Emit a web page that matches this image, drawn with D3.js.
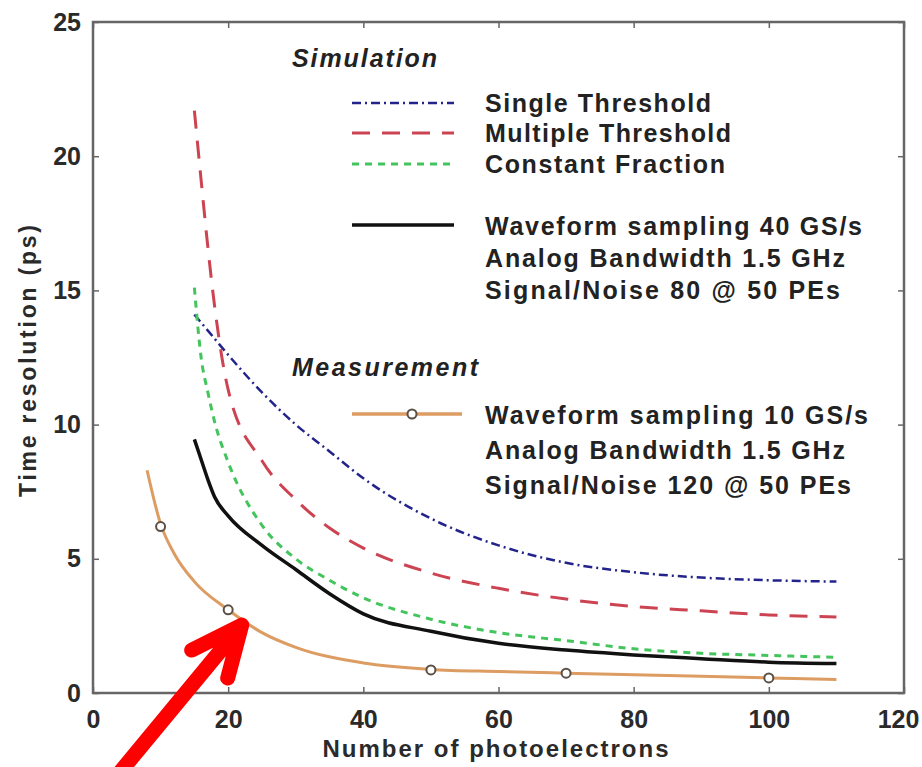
<!DOCTYPE html>
<html>
<head>
<meta charset="utf-8">
<script src="https://cdn.jsdelivr.net/npm/d3@7/dist/d3.min.js"></script>
<style>
  body { margin: 0; background: #fff; }
  svg { display: block; font-family: 'Liberation Sans', Arial, sans-serif; }
</style>
</head>
<body>
<div id="chart"></div>
<script>
// ---- data ----
const simX = [15, 16, 17, 18, 20, 25, 30, 35, 40, 50, 60, 70, 80, 90, 100, 110];
const singleThreshold = [14.1, 13.8, 13.5, 13.2, 12.6, 11.2, 10.0, 9.0, 8.0, 6.5, 5.5, 4.85, 4.5, 4.3, 4.2, 4.15];
const multipleThreshold = [21.7, 19.1, 16.6, 14.4, 11.3, 8.65, 7.2, 6.15, 5.4, 4.47, 3.9, 3.5, 3.22, 3.06, 2.91, 2.83];
const constantFraction = [15.1, 12.5, 11.2, 10.1, 8.6, 6.25, 5.0, 4.2, 3.55, 2.75, 2.25, 1.95, 1.65, 1.48, 1.4, 1.33];
const waveform40 = [9.45, 8.7, 7.95, 7.3, 6.6, 5.5, 4.6, 3.7, 2.95, 2.3, 1.85, 1.6, 1.42, 1.28, 1.15, 1.1];

const measX = [8, 10, 12, 15, 20, 25, 30, 40, 50, 60, 70, 80, 90, 100, 110];
const waveform10 = [8.3, 6.3, 5.2, 4.15, 3.1, 2.25, 1.7, 1.12, 0.88, 0.8, 0.74, 0.68, 0.62, 0.56, 0.5];
const markX = [10, 20, 50, 70, 100];
const markY = [6.2, 3.1, 0.86, 0.74, 0.56];

const xTicks = [0, 20, 40, 60, 80, 100, 120];
const yTicks = [0, 5, 10, 15, 20, 25];

const simLegend = ['Single Threshold', 'Multiple Threshold', 'Constant Fraction'];
const simNote = ['Waveform sampling 40 GS/s', 'Analog Bandwidth  1.5 GHz', 'Signal/Noise  80 @ 50 PEs'];
const measNote = ['Waveform sampling 10 GS/s', 'Analog Bandwidth  1.5 GHz', 'Signal/Noise  120 @ 50 PEs'];

// ---- setup ----
const margin = { top: 22, right: 18, bottom: 74, left: 93 };
const width = 922 - margin.left - margin.right;
const height = 767 - margin.top - margin.bottom;

const svg = d3.select('#chart')
  .append('svg')
  .attr('width', 922)
  .attr('height', 767);

const group = svg.append('g')
  .attr('transform', 'translate(' + margin.left + ',' + margin.top + ')');

const xScale = d3.scaleLinear().domain([0, 120]).range([0, width]);
const yScale = d3.scaleLinear().domain([0, 25]).range([height, 0]);

// axes, matlab style: box with ticks pointing inwards
const axisColor = '#666';
const labelColor = '#2a2a2a';

function styleAxis(g) {
  g.select('.domain').remove();
  g.selectAll('.tick line').attr('stroke', axisColor).attr('stroke-width', 1.5);
  g.selectAll('.tick text')
    .attr('fill', labelColor)
    .attr('font-size', 25)
    .attr('font-weight', 'bold');
}

group.append('g')
  .attr('transform', 'translate(0,' + height + ')')
  .call(d3.axisBottom(xScale).tickValues(xTicks).tickSize(-6).tickPadding(17))
  .call(styleAxis)
  .selectAll('.tick text')
  .attr('dx', (d) => (d === 120 ? -6 : 0));
group.append('g')
  .call(d3.axisTop(xScale).tickValues(xTicks).tickSize(-6).tickFormat(''))
  .call(styleAxis);
group.append('g')
  .call(d3.axisLeft(yScale).tickValues(yTicks).tickSize(-6).tickPadding(12))
  .call(styleAxis);
group.append('g')
  .attr('transform', 'translate(' + width + ',0)')
  .call(d3.axisRight(yScale).tickValues(yTicks).tickSize(-6).tickFormat(''))
  .call(styleAxis);

group.append('rect')
  .attr('width', width)
  .attr('height', height)
  .attr('fill', 'none')
  .attr('stroke', axisColor)
  .attr('stroke-width', 2.5);

// axis titles
svg.append('text')
  .attr('x', margin.left + width / 2 - 3)
  .attr('y', 757)
  .attr('text-anchor', 'middle')
  .attr('font-size', 24)
  .attr('font-weight', 'bold')
  .attr('fill', labelColor)
  .attr('textLength', 346)
  .attr('lengthAdjust', 'spacing')
  .text('Number of photoelectrons');

svg.append('text')
  .attr('transform', 'translate(36,361) rotate(-90)')
  .attr('text-anchor', 'middle')
  .attr('font-size', 23)
  .attr('font-weight', 'bold')
  .attr('fill', labelColor)
  .attr('textLength', 272)
  .attr('lengthAdjust', 'spacing')
  .text('Time resolution (ps)');

// ---- lines ----
const series = [
  { x: simX, y: singleThreshold, color: '#23238c', dash: '9,4,2,4', w: 2.5 },
  { x: simX, y: multipleThreshold, color: '#cc4452', dash: '18,12', w: 3 },
  { x: simX, y: constantFraction, color: '#44c45c', dash: '7,6', w: 3 },
  { x: simX, y: waveform40, color: '#111', dash: null, w: 3.5 },
  { x: measX, y: waveform10, color: '#dc9c62', dash: null, w: 3 }
];

const line = d3.line()
  .x((d) => xScale(d[0]))
  .y((d) => yScale(d[1]))
  .curve(d3.curveMonotoneX);

series.forEach((s) => {
  group.append('path')
    .datum(s.x.map((v, i) => [v, s.y[i]]))
    .attr('fill', 'none')
    .attr('stroke', s.color)
    .attr('stroke-width', s.w)
    .attr('stroke-dasharray', s.dash)
    .attr('stroke-linejoin', 'round')
    .attr('d', line);
});

group.selectAll('.meas-point')
  .data(markX.map((v, i) => [v, markY[i]]))
  .enter()
  .append('circle')
  .attr('class', 'meas-point')
  .attr('cx', (d) => xScale(d[0]))
  .attr('cy', (d) => yScale(d[1]))
  .attr('r', 4.5)
  .attr('fill', '#fff')
  .attr('stroke', '#5a5048')
  .attr('stroke-width', 2);

// ---- legend ----
const legend = svg.append('g').attr('fill', '#222').attr('font-weight', 'bold');

function legendText(x, y, txt, len, italic) {
  legend.append('text')
    .attr('x', x)
    .attr('y', y)
    .attr('font-size', italic ? 25 : 25)
    .attr('font-style', italic ? 'italic' : null)
    .attr('textLength', len)
    .attr('lengthAdjust', 'spacing')
    .text(txt);
}

legendText(292, 67, 'Simulation', 145, true);
const simLens = [226, 246, 240];
simLegend.forEach((t, i) => {
  const yy = [112, 142, 173][i];
  legend.append('line')
    .attr('x1', 352).attr('x2', 454)
    .attr('y1', yy - 9).attr('y2', yy - 9)
    .attr('stroke', series[i].color)
    .attr('stroke-width', series[i].w)
    .attr('stroke-dasharray', series[i].dash);
  legendText(485, yy, t, simLens[i], false);
});
legend.append('line')
  .attr('x1', 352).attr('x2', 454)
  .attr('y1', 225).attr('y2', 225)
  .attr('stroke', '#111')
  .attr('stroke-width', 3.5);
const noteLens = [377, 360, 355];
simNote.forEach((t, i) => legendText(485, 235 + i * 32, t, noteLens[i], false));

legendText(292, 376, 'Measurement', 186, true);
legend.append('line')
  .attr('x1', 352).attr('x2', 462)
  .attr('y1', 414).attr('y2', 414)
  .attr('stroke', '#dc9c62')
  .attr('stroke-width', 3.5);
legend.append('circle')
  .attr('cx', 412).attr('cy', 414).attr('r', 4.5)
  .attr('fill', '#fff').attr('stroke', '#5a5048').attr('stroke-width', 2);
const measLens = [383, 360, 366];
measNote.forEach((t, i) => legendText(485, 424 + i * 35, t, measLens[i], false));

// ---- red annotation arrow pointing at the measured curve ----
const arrowTip = [22.0, 2.53];
const arrowTail = [3.5, -3.1];
const tip = [margin.left + xScale(arrowTip[0]), margin.top + yScale(arrowTip[1])];
const tail = [margin.left + xScale(arrowTail[0]), margin.top + yScale(arrowTail[1])];
svg.append('path')
  .attr('d', 'M' + tail + 'L' + tip + 'M' + [tip[0] - 50, tip[1] + 25] + 'L' + tip + 'L' + [tip[0] - 14, tip[1] + 53])
  .attr('fill', 'none')
  .attr('stroke', '#ff0000')
  .attr('stroke-width', 15)
  .attr('stroke-linecap', 'round')
  .attr('stroke-linejoin', 'round');
</script>
</body>
</html>
